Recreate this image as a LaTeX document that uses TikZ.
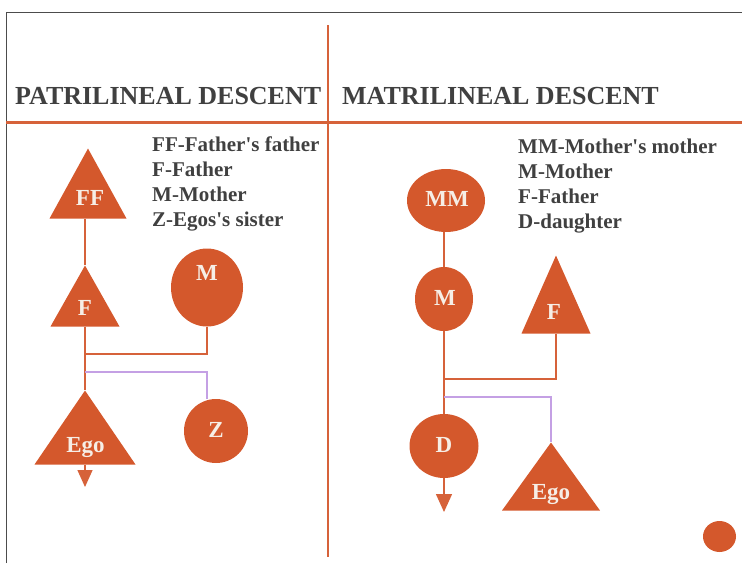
\documentclass[tikz,border=0pt]{standalone}
\usepackage{fontspec}
\setmainfont{Liberation Serif}
\usetikzlibrary{shapes.geometric,arrows.meta}
\definecolor{rust}{RGB}{212,88,44}
\definecolor{rustline}{RGB}{214,98,58}
\definecolor{lilac}{RGB}{196,160,228}
\definecolor{ink}{RGB}{64,64,64}
\definecolor{cream}{RGB}{246,238,230}
\begin{document}
\begin{tikzpicture}[x=1pt, y=-1pt,
  male/.style = {isosceles triangle, shape border rotate=90,
    isosceles triangle stretches, fill=rust, inner sep=0pt, anchor=apex},
  female/.style = {ellipse, fill=rust, inner sep=0pt},
  kin/.style = {text=cream, anchor=base, inner sep=0pt,
    font=\bfseries\fontsize{23}{23}\selectfont},
  link/.style = {rustline, line width=1.4pt},
  sib/.style = {lilac, line width=1.4pt},
  heading/.style = {text=ink, anchor=base west, inner sep=0pt,
    font=\bfseries\fontsize{26}{26}\selectfont},
  key/.style = {text=ink, anchor=north west, align=left, inner sep=0pt,
    font=\bfseries\fontsize{21}{25}\selectfont}]
\useasboundingbox (0,0) rectangle (742,563);
\draw[gray!60!black, line width=0.8pt] (6,563) -- (6,12) -- (742,12);
\draw[rustline, line width=2.5pt] (6,122.5) -- (742,122.5);
\draw[rustline, line width=2pt] (328,25) -- (328,557);

\node[heading] (patri) at (15,104) {PATRILINEAL DESCENT};
\node[heading] (matri) at (342,104) {MATRILINEAL DESCENT};
\node[key] (patrikey) at (152,137)
  {FF-Father\textquotesingle s father\\F-Father\\M-Mother\\Z-Egos\textquotesingle s sister};
\node[key] (matrikey) at (518,139)
  {MM-Mother\textquotesingle s mother\\M-Mother\\F-Father\\D-daughter};

\node[male, minimum width=77, minimum height=70] (FF) at (88,148) {};
\node[male, minimum width=69, minimum height=61] (F) at (85,265) {};
\node[female, minimum width=72, minimum height=78] (M) at (207,287.5) {};
\node[male, minimum width=101, minimum height=74] (Ego) at (85,390) {};
\node[female, minimum size=64] (Z) at (216,431) {};

\node[kin] (tFF) at (90,205.6) {FF};
\node[kin] (tF) at (85,315.6) {F};
\node[kin] (tM) at (207,280.6) {M};
\node[kin] (tEgo) at (85.5,452.6) {Ego};
\node[kin] (tZ) at (216,437.6) {Z};

\coordinate (wedL) at (85,354);
\coordinate (sibL) at (85,372);
\coordinate (tipL) at (85,487);
\draw[link] (F.apex) -- (F.apex |- FF.lower side);
\draw[link] (F.lower side) -- (Ego.apex);
\draw[link] (M.south) |- (wedL);
\draw[sib] (sibL) -| (Z.north -| M.south);
\draw[link, -{Triangle[width=15pt, length=17pt]}] (Ego.lower side) -- (tipL);

\node[female, minimum width=78, minimum height=63] (MM) at (446,200.5) {};
\node[female, minimum width=58, minimum height=64] (RM) at (444,299) {};
\node[male, minimum width=69, minimum height=78] (RF) at (556,255) {};
\node[female, minimum width=69, minimum height=64] (D) at (444,446) {};
\node[male, minimum width=98, minimum height=68] (REgo) at (551,442) {};
\node[female, minimum width=33, minimum height=31] (dot) at (719.5,536.5) {};

\node[kin] (tMM) at (447,206.6) {MM};
\node[kin] (tRM) at (445,305.6) {M};
\node[kin] (tRF) at (554,319.6) {F};
\node[kin] (tD) at (444,452.6) {D};
\node[kin] (tREgo) at (551,499.6) {Ego};

\coordinate (wedR) at (444,379);
\coordinate (sibR) at (444,397);
\coordinate (tipR) at (444,512);
\draw[link] (RM.north) -- (RM.north |- MM.south);
\draw[link] (RM.south) -- (D.north);
\draw[link] (RF.lower side) |- (wedR);
\draw[sib] (sibR) -| (REgo.apex);
\draw[link, -{Triangle[width=16pt, length=18pt]}] (D.south) -- (tipR);
\end{tikzpicture}
\end{document}
